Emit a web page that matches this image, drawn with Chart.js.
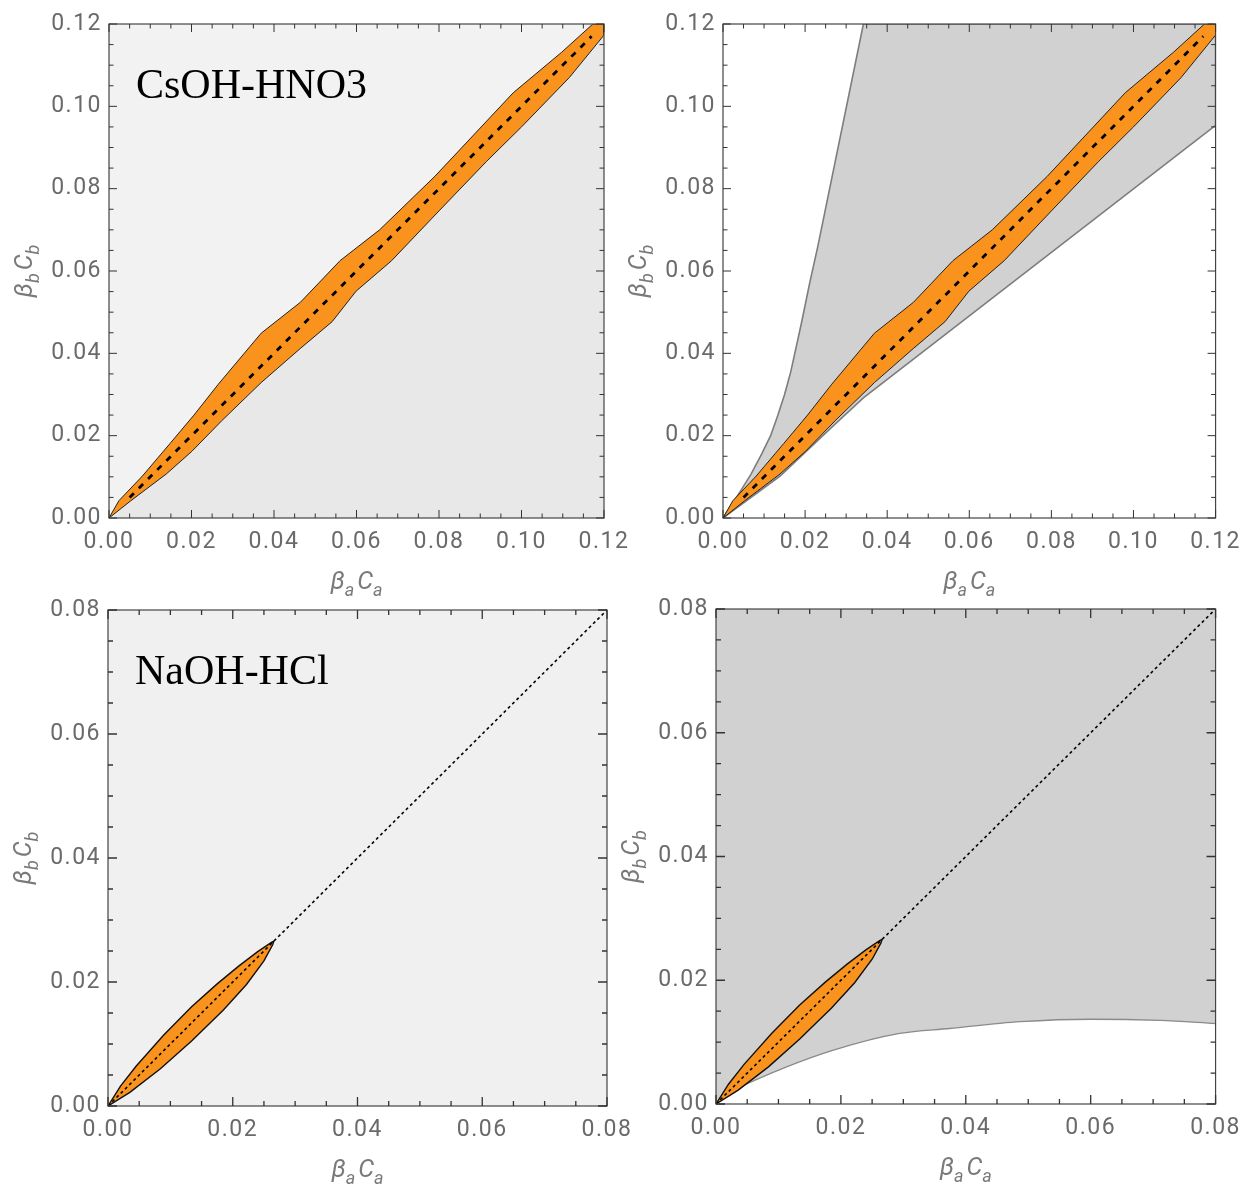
<!DOCTYPE html>
<html lang="en">
<head>
<meta charset="UTF-8">
<title>CsOH-HNO3 / NaOH-HCl</title>
<script src="https://cdn.jsdelivr.net/npm/chart.js"></script>
<style>
  body { margin: 0; background: #fff; }
  #wrap { position: relative; width: 1248px; height: 1184px; }
  #wrap canvas { position: absolute; left: 0; top: 0; }
</style>
</head>
<body>
<div id="wrap">
  <canvas id="p1" width="1248" height="1184"></canvas>
  <canvas id="p2" width="1248" height="1184"></canvas>
  <canvas id="p3" width="1248" height="1184"></canvas>
  <canvas id="p4" width="1248" height="1184"></canvas>
</div>
<script>
// tick labels
const csTicks = [0, 0.02, 0.04, 0.06, 0.08, 0.10, 0.12];
const naTicks = [0, 0.02, 0.04, 0.06, 0.08];

// CsOH-HNO3 orange band (upper / lower edge)
const csUpperX = [0, 0.0024, 0.0081, 0.0148, 0.0206, 0.0265, 0.0369, 0.0464, 0.0560, 0.0656, 0.0790, 0.0980, 0.1097, 0.1173, 0.12];
const csUpperY = [0, 0.0042, 0.0102, 0.0181, 0.0250, 0.0325, 0.0449, 0.0524, 0.0625, 0.0700, 0.0830, 0.1033, 0.1131, 0.12, 0.12];
const csLowerX = [0, 0.0053, 0.0139, 0.0201, 0.0273, 0.0369, 0.0464, 0.0541, 0.0599, 0.0685, 0.0800, 0.0915, 0.1000, 0.1116, 0.12];
const csLowerY = [0, 0.0042, 0.0107, 0.0162, 0.0236, 0.0329, 0.0412, 0.0477, 0.0551, 0.0625, 0.0746, 0.0866, 0.0950, 0.1070, 0.1173];
const csDiag = [0.005, 0.117];

// CsOH-HNO3 grey region (right panel)
const csGrayUpperX = [0, 0.0020, 0.0041, 0.0068, 0.0094, 0.0116, 0.0133, 0.0150, 0.0165, 0.0191, 0.0211, 0.0231, 0.0342, 0.12];
const csGrayUpperY = [0, 0.0031, 0.0063, 0.0106, 0.0155, 0.0200, 0.0248, 0.0300, 0.0355, 0.0473, 0.0570, 0.0660, 0.12, 0.12];
const csGrayLowerX = [0, 0.0139, 0.0273, 0.0342, 0.12];
const csGrayLowerY = [0, 0.0102, 0.0228, 0.0292, 0.0954];

// NaOH-HCl orange band
const naUpperX = [0, 0.0020, 0.0045, 0.0089, 0.0134, 0.0175, 0.0210, 0.0240, 0.0262, 0.0266];
const naUpperY = [0, 0.0032, 0.0064, 0.0114, 0.0160, 0.0197, 0.0226, 0.0249, 0.0264, 0.0266];
const naLowerX = [0, 0.0035, 0.0084, 0.0134, 0.0185, 0.0222, 0.0250, 0.0264, 0.0266];
const naLowerY = [0, 0.0022, 0.0060, 0.0105, 0.0155, 0.0196, 0.0234, 0.0260, 0.0266];
const naDiag = [0, 0.08];

// NaOH-HCl lower boundary of grey region (right panel)
const naBoundX = [0, 0.0027, 0.0050, 0.0108, 0.0188, 0.0294, 0.0374, 0.0487, 0.0602, 0.0711, 0.08];
const naBoundY = [0, 0.0023, 0.0033, 0.0058, 0.0087, 0.0114, 0.0122, 0.0133, 0.0137, 0.0135, 0.0130];

const ORANGE = '#f9931d';
const GREY = '#d1d1d1';

const pts = (xs, ys) => xs.map((x, i) => ({ x: x, y: ys[i] }));
const band = (ux, uy, lx, ly) => pts(ux, uy).concat(pts(lx, ly).reverse());
const diag = d => d.map(v => ({ x: v, y: v }));

function subWidth(ctx, parts, size) {
    const main = 'italic ' + size + 'px Roboto';
    const sub = 'italic ' + Math.round(size * 0.7) + 'px Roboto';
    let w = 0;
    parts.forEach((p, i) => {
        ctx.font = main; w += ctx.measureText(p[0]).width;
        ctx.font = sub; w += ctx.measureText(p[1]).width;
        if (i < parts.length - 1) w += 3;
    });
    return w;
}
function drawSub(ctx, parts, size, x0, y0) {
    const main = 'italic ' + size + 'px Roboto';
    const sub = 'italic ' + Math.round(size * 0.7) + 'px Roboto';
    let x = x0;
    parts.forEach(p => {
        ctx.font = main; ctx.fillText(p[0], x, y0); x += ctx.measureText(p[0]).width;
        ctx.font = sub; ctx.fillText(p[1], x, y0 + size * 0.28); x += ctx.measureText(p[1]).width;
        x += 3;
    });
}

const decor = {
    id: 'decor',
    beforeDraw(chart) { chart.ctx.letterSpacing = '1.5px'; },
    beforeDatasetsDraw(chart, args, o) {
        const a = chart.chartArea, ctx = chart.ctx;
        ctx.save();
        ctx.fillStyle = o.bg;
        ctx.fillRect(a.left, a.top, a.right - a.left, a.bottom - a.top);
        ctx.restore();
    },
    afterDraw(chart, args, o) {
        const a = chart.chartArea, ctx = chart.ctx;
        const xs = chart.scales.x, ys = chart.scales.y;
        ctx.save();
        ctx.letterSpacing = '0px';
        // frame
        ctx.strokeStyle = '#444';
        ctx.lineWidth = 1.2;
        ctx.strokeRect(a.left, a.top, a.right - a.left, a.bottom - a.top);
        // inward ticks on all four sides
        ctx.strokeStyle = '#333';
        ctx.lineWidth = o.tickWidth;
        ctx.beginPath();
        for (let k = 0; k <= Math.round(xs.max / 0.005); k++) {
            const v = k * 0.005, big = k % 4 === 0;
            const L = big ? o.major : o.minor;
            const px = xs.getPixelForValue(v), py = ys.getPixelForValue(v);
            ctx.moveTo(px, a.bottom); ctx.lineTo(px, a.bottom - L);
            ctx.moveTo(px, a.top); ctx.lineTo(px, a.top + L);
            ctx.moveTo(a.left, py); ctx.lineTo(a.left + L, py);
            ctx.moveTo(a.right, py); ctx.lineTo(a.right - L, py);
        }
        ctx.stroke();
        // panel label
        if (o.label) {
            ctx.fillStyle = '#000';
            ctx.font = '42px "Liberation Serif"';
            ctx.textBaseline = 'alphabetic';
            ctx.fillText(o.label, a.left + 27, a.top + 74);
        }
        // axis titles
        ctx.fillStyle = '#7a7a7a';
        ctx.textBaseline = 'alphabetic';
        const xt = [['\u03B2', 'a'], ['C', 'a']], yt = [['\u03B2', 'b'], ['C', 'b']];
        const wx = subWidth(ctx, xt, 25);
        drawSub(ctx, xt, 25, (a.left + a.right) / 2 - wx / 2, a.bottom + 71);
        const wy = subWidth(ctx, yt, 25);
        ctx.translate(a.left - 86, (a.top + a.bottom) / 2);
        ctx.rotate(-Math.PI / 2);
        drawSub(ctx, yt, 25, -wy / 2, 9);
        ctx.restore();
    }
};

function makePanel(id, box, ticks, bg, datasets, label, tickStyle) {
    const max = ticks[ticks.length - 1];
    const tickOpts = {
        autoSkip: false, maxRotation: 0, minRotation: 0,
        color: '#6a6a6a', font: { family: 'Roboto', size: 23 },
        callback: v => Number(v).toFixed(2)
    };
    const setTicks = s => { s.ticks = ticks.map(v => ({ value: v })); };
    return new Chart(document.getElementById(id), {
        type: 'line',
        data: { datasets: datasets },
        options: {
            responsive: false,
            animation: false,
            devicePixelRatio: 1,
            events: [],
            layout: { padding: { left: box.left - 100, top: box.top, right: 1248 - box.right, bottom: 1184 - box.bottom - 60 } },
            elements: { point: { radius: 0 }, line: { tension: 0 } },
            plugins: {
                legend: { display: false },
                tooltip: { enabled: false },
                decor: { bg: bg, label: label, major: tickStyle[0], minor: tickStyle[1], tickWidth: tickStyle[2] }
            },
            scales: {
                x: {
                    type: 'linear', min: 0, max: max,
                    grid: { display: false, drawTicks: false }, border: { display: false },
                    ticks: Object.assign({ padding: 10 }, tickOpts),
                    afterBuildTicks: setTicks,
                    afterFit: s => { s.height = 60; }
                },
                y: {
                    type: 'linear', min: 0, max: max,
                    grid: { display: false, drawTicks: false }, border: { display: false },
                    ticks: Object.assign({ padding: 7 }, tickOpts),
                    afterBuildTicks: setTicks,
                    afterFit: s => { s.width = 100; }
                }
            }
        },
        plugins: [decor]
    });
}

const csBand = () => ({
    data: band(csUpperX, csUpperY, csLowerX, csLowerY),
    fill: 'shape', backgroundColor: ORANGE, borderColor: '#222', borderWidth: 1, order: 2, clip: 0
});
const csLine = () => ({
    data: diag(csDiag), borderColor: '#000', borderWidth: 2.8, borderDash: [6, 7], fill: false, order: 1, clip: 0
});
const naBand = () => ({
    data: band(naUpperX, naUpperY, naLowerX, naLowerY),
    fill: 'shape', backgroundColor: ORANGE, borderColor: '#111', borderWidth: 1.4, order: 2, clip: 0
});
const naLine = () => ({
    data: diag(naDiag), borderColor: '#000', borderWidth: 1.6, borderDash: [3, 3], fill: false, order: 1, clip: 0
});

makePanel('p1', { left: 109, top: 24, right: 604, bottom: 518 }, csTicks, '#f2f2f2', [
    { data: pts(csLowerX, csLowerY), fill: 'origin', backgroundColor: '#e8e8e8', borderWidth: 0, order: 3, clip: 0 },
    csBand(), csLine()
], 'CsOH-HNO3', [8, 4.5, 1]);

makePanel('p2', { left: 723, top: 24, right: 1218, bottom: 518 }, csTicks, '#ffffff', [
    { data: band(csGrayUpperX, csGrayUpperY, csGrayLowerX, csGrayLowerY), fill: 'shape', backgroundColor: GREY,
      borderColor: '#7d7d7d', borderWidth: 1.6, order: 3, clip: 0 },
    csBand(), csLine()
], null, [8, 4.5, 1]);

makePanel('p3', { left: 108, top: 610, right: 607, bottom: 1106 }, naTicks, '#f0f0f0', [
    naBand(), naLine()
], 'NaOH-HCl', [9, 5, 1.3]);

makePanel('p4', { left: 716, top: 609, right: 1216, bottom: 1104 }, naTicks, GREY, [
    { data: pts(naBoundX, naBoundY), fill: 'origin', backgroundColor: '#ffffff', borderColor: '#8a8a8a',
      borderWidth: 1.3, cubicInterpolationMode: 'monotone', order: 3, clip: 0 },
    naBand(), naLine()
], null, [9, 5, 1.3]);
</script>
</body>
</html>
